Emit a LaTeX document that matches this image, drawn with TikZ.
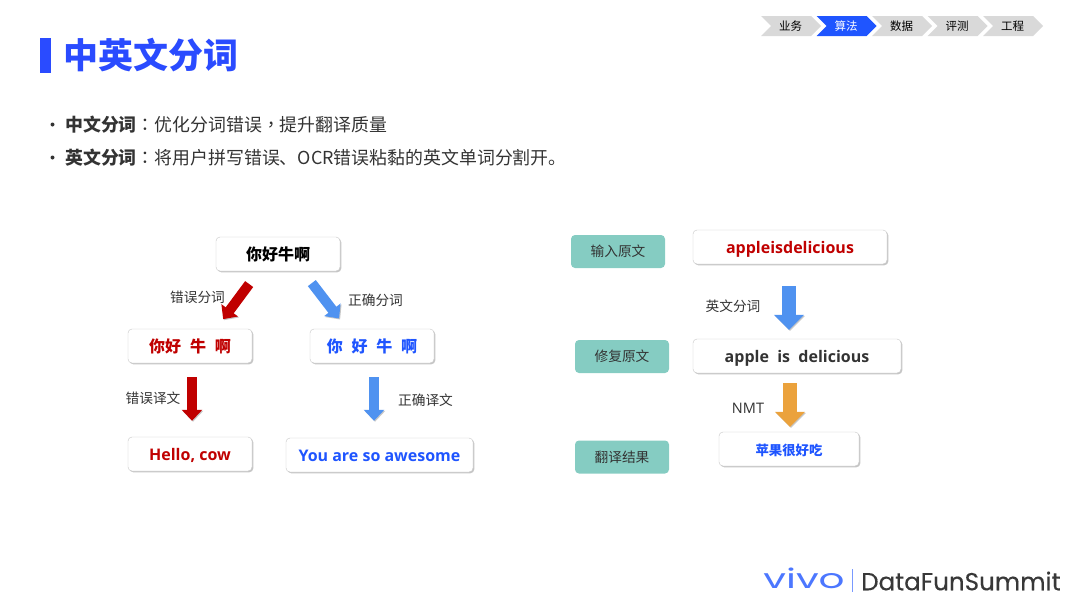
\documentclass[tikz,border=0pt]{standalone}
\usepackage{fontspec}
\setmainfont{Noto Sans CJK SC}
\newfontfamily\latinfont{Open Sans}
\newfontfamily\logofont{Poppins}
\newfontfamily\logoboldfont[FakeBold=0.3]{Poppins}
\newfontfamily\centeredpunct{Noto Sans CJK TC}
\newcommand{\wordgap}{\hspace{8.8pt}}
\usepackage{tikz}
\usetikzlibrary{shapes, arrows.meta, shadows}

\definecolor{titleblue}{HTML}{2A4BFF}
\definecolor{textblue}{HTML}{1F55FF}
\definecolor{wrongred}{HTML}{C00000}
\definecolor{arrowblue}{HTML}{4F92F0}
\definecolor{arroworange}{HTML}{EBA23C}
\definecolor{stepteal}{HTML}{85CCC2}
\definecolor{tabgray}{HTML}{D9D9D9}
\definecolor{bodytext}{HTML}{333333}

\begin{document}
\begin{tikzpicture}[x=1pt, y=-1pt,
    whitebox/.style = {draw=black!22, fill=white, rounded corners=4pt, inner sep=0pt, minimum height=34pt,
        text height=13pt, text depth=0pt,
        drop shadow={shadow xshift=1.3pt, shadow yshift=-1.3pt, fill=black!45}, font=\fontsize{16}{16}\selectfont\bfseries},
    stepbox/.style = {fill=stepteal, rounded corners=4pt, inner sep=0pt, minimum width=94pt, minimum height=33pt,
        text=bodytext, font=\fontsize{13.7}{14}\selectfont},
    lbl/.style = {text=bodytext, inner sep=0pt, font=\fontsize{13.7}{14}\selectfont},
    tabtext/.style = {inner sep=0pt, font=\fontsize{11.5}{11.5}\selectfont},
    shadowed/.style = {preaction={draw=black!22, transform canvas={xshift=1pt, yshift=-1pt}}},
    thinarrow/.style = {line width=10pt, -{Triangle[length=11pt, width=20pt]}, shadowed},
    widearrow/.style = {line width=14.5pt, -{Triangle[length=15pt, width=29pt]}, shadowed}]
    \useasboundingbox (0, 0) rectangle (1080, 608);

    % header
    \fill[titleblue] (40, 38) rectangle (51, 73);
    \node[inner sep=0pt, text=titleblue, font=\fontsize{35}{35}\selectfont\bfseries] at (150.7, 55) (title) {中英文分词};
    \foreach \x/\name/\c/\t in {761/业务/tabgray/black, 816.5/算法/textblue/white, 872/数据/tabgray/black, 927.5/评测/tabgray/black, 983/工程/tabgray/black} {
        \fill[\c] (\x, 16) -- ++(50, 0) -- ++(10, 10) -- ++(-10, 10) -- ++(-50, 0) -- ++(10, -10) -- cycle;
        \node[tabtext, text=\t] at (\x + 29.5, 26) (tab\name) {\name};
    }

    % bullets
    \fill[bodytext] (52.5, 124.5) circle (2);
    \fill[bodytext] (52.5, 157.5) circle (2);
    \node[anchor=west, inner sep=0pt, text=bodytext, font=\fontsize{17.9}{18}\selectfont] at (65, 124.5) (zhline) {\textbf{中文分词}{\centeredpunct ：}优化分词错误{\centeredpunct ，}提升翻译质量};
    \node[anchor=west, inner sep=0pt, text=bodytext, font=\fontsize{17.9}{18}\selectfont] at (65, 157.5) (enline) {\textbf{英文分词}{\centeredpunct ：}将用户拼写错误、OCR错误粘黏的英文单词分割开。};

    % left tree
    \node[whitebox, minimum width=124pt] at (278, 254) (root) {你好牛啊};
    \node[whitebox, minimum width=124pt, text=wrongred] at (190, 346) (wrongseg) {你好\wordgap 牛\wordgap 啊};
    \node[whitebox, minimum width=124pt, text=textblue] at (372, 346) (rightseg) {你\wordgap 好\wordgap 牛\wordgap 啊};
    \node[whitebox, minimum width=124pt, text=wrongred] at (190, 454) (hello) {\latinfont Hello, cow};
    \node[whitebox, minimum width=187pt, text=textblue] at (379.5, 455) (awesome) {\latinfont You are so awesome};

    \draw[thinarrow, wrongred, shorten <=16pt, shorten >=12pt] ([xshift=-19.3pt]root.south) -- ([xshift=26pt]wrongseg.north);
    \draw[thinarrow, arrowblue, shorten <=15pt, shorten >=13pt] ([xshift=24.7pt]root.south) -- ([xshift=-25pt]rightseg.north);
    \draw[thinarrow, wrongred, shorten <=14pt, shorten >=16pt] ([xshift=2pt]wrongseg.south) -- ([xshift=2pt]hello.north);
    \draw[thinarrow, arrowblue, shorten <=14pt, shorten >=17pt] ([xshift=2pt]rightseg.south) -- ([xshift=-5.5pt]awesome.north);

    \node[lbl] at (197.5, 297.5) (wrongsegl) {错误分词};
    \node[lbl] at (375.5, 300) (rightsegl) {正确分词};
    \node[lbl] at (153, 398.5) (wrongtrl) {错误译文};
    \node[lbl] at (425.5, 400.5) (righttrl) {正确译文};

    % right column
    \node[stepbox] at (618, 251.5) (input) {输入原文};
    \node[stepbox] at (622, 356.5) (fixed) {修复原文};
    \node[stepbox] at (622, 457) (result) {翻译结果};
    \node[whitebox, minimum width=194pt, text=wrongred] at (790, 247) (raw) {\latinfont appleisdelicious};
    \node[whitebox, minimum width=208pt, text=bodytext] at (797, 356) (apple) {\latinfont apple~~is~~delicious};
    \node[whitebox, minimum width=140pt, text=textblue, font=\fontsize{13.4}{14}\selectfont\bfseries] at (789, 449) (fruit) {苹果很好吃};

    \draw[widearrow, arrowblue, shorten <=22pt, shorten >=9pt] ([xshift=-1pt]raw.south) -- ([xshift=-8pt]apple.north);
    \draw[widearrow, arroworange, shorten <=10pt, shorten >=5pt] ([xshift=-7pt]apple.south) -- ([xshift=1pt]fruit.north);

    \node[lbl] at (733, 306.5) (splitl) {英文分词};
    \node[lbl, font=\fontsize{14.5}{14}\selectfont\latinfont] at (748, 408) (nmtl) {NMT};

    % logo
    \node[anchor=base, inner sep=0pt, text=textblue!80!white, xscale=1.5, font=\fontsize{27}{27}\selectfont\logofont] at (804, 588) (vivo) {vivo};
    \draw[textblue!60!white, line width=0.8pt] (852, 569) -- (852, 592);
    \node[anchor=west, inner sep=0pt, text=black!78, font=\fontsize{24.6}{25}\selectfont\logoboldfont] at (861, 581) (dfs) {DataFunSummit};
\end{tikzpicture}
\end{document}
